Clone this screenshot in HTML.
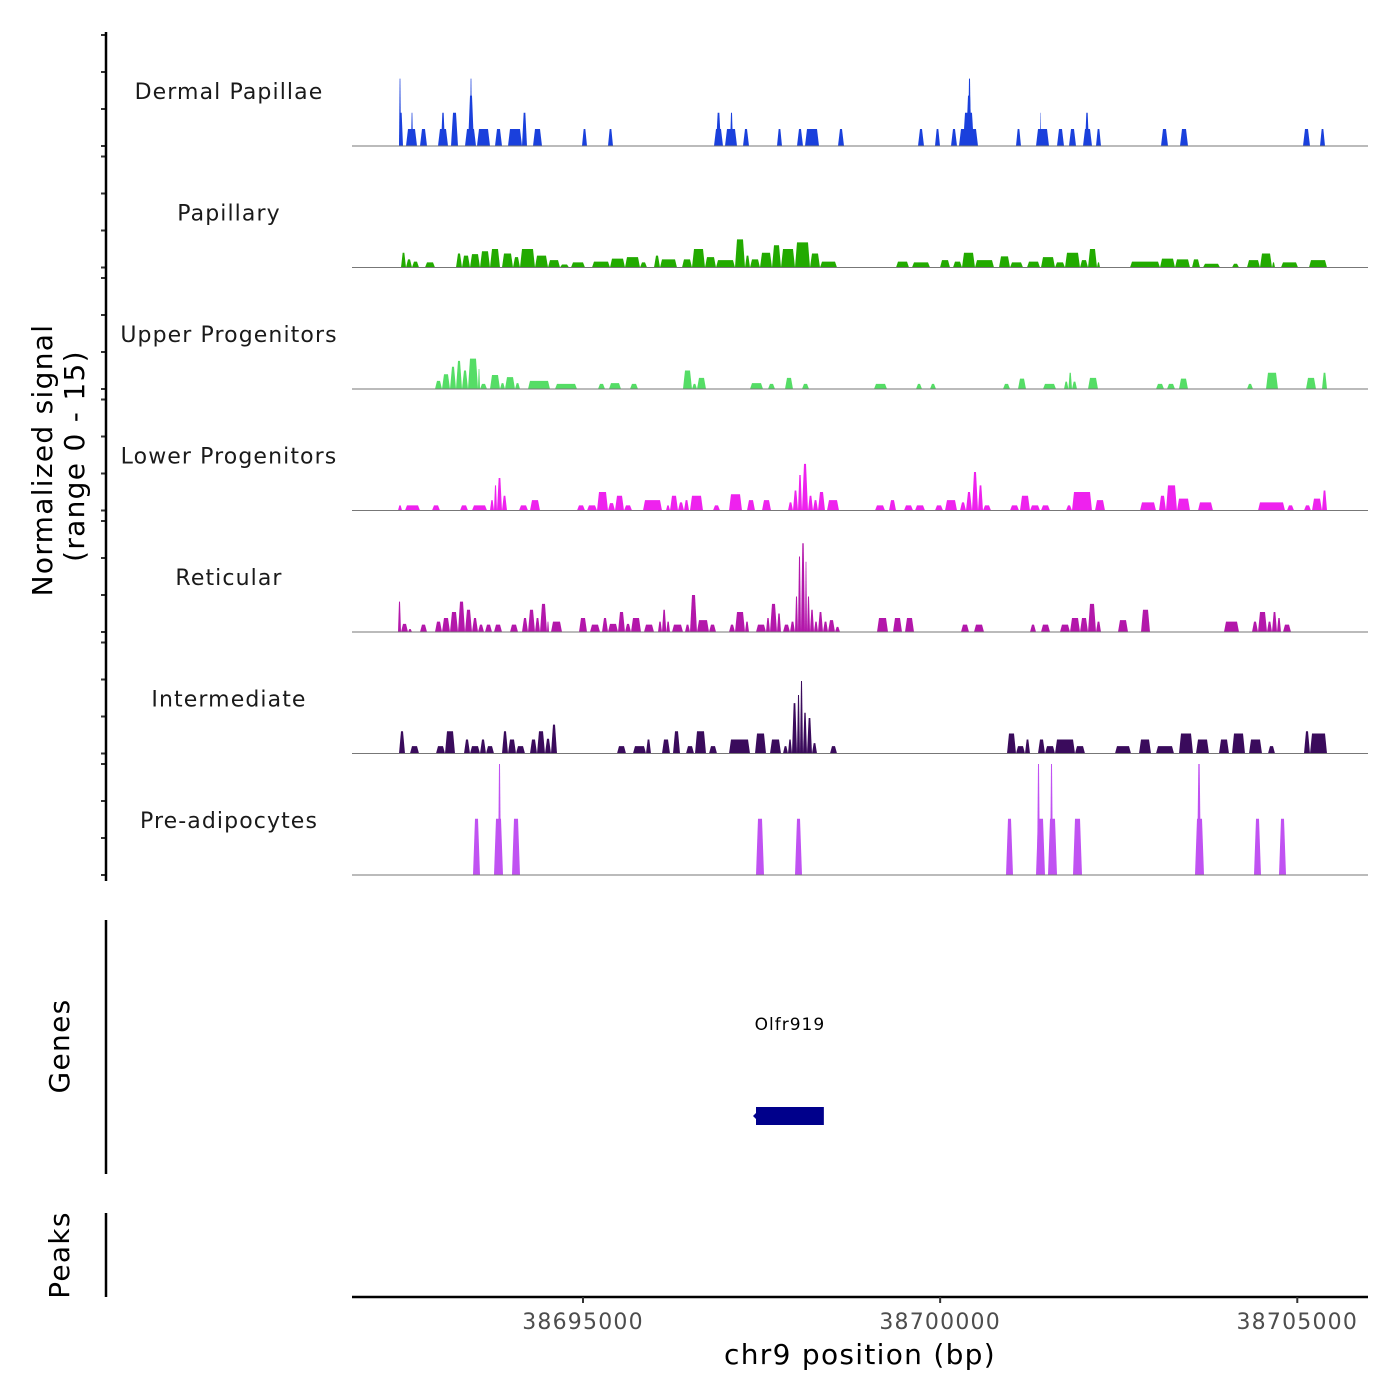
<!DOCTYPE html>
<html><head><meta charset="utf-8">
<style>
html,body{margin:0;padding:0;background:#fff;}
svg{display:block;font-family:"DejaVu Sans","Liberation Sans",sans-serif;}
</style></head>
<body>
<svg id="chart" width="1400" height="1400" viewBox="0 0 1400 1400" xmlns="http://www.w3.org/2000/svg">
<rect width="1400" height="1400" fill="#fff"/>
<g id="tracks"></g>
<g id="axes"></g>
<text transform="translate(52,460) rotate(-90)" text-anchor="middle" font-size="28" letter-spacing="1.3" fill="#000">Normalized signal</text>
<text transform="translate(84,456) rotate(-90)" text-anchor="middle" font-size="28" letter-spacing="1.3" fill="#000">(range 0 - 15)</text>
<text transform="translate(69,1046) rotate(-90)" text-anchor="middle" font-size="28" letter-spacing="1.3" fill="#000">Genes</text>
<text transform="translate(69,1255) rotate(-90)" text-anchor="middle" font-size="28" letter-spacing="1.3" fill="#000">Peaks</text>
<text x="860" y="1364" text-anchor="middle" font-size="28" letter-spacing="1.3" fill="#000">chr9 position (bp)</text>
</svg>
<script>
const REGION_START = 38691766;
const REGION_END = 38706000;
const Y_MAX = 15;
const trackNames = ["Dermal Papillae","Papillary","Upper Progenitors","Lower Progenitors","Reticular","Intermediate","Pre-adipocytes"];
const trackColors = ["#1a40dc","#22aa00","#55dd66","#ee22ee","#b317aa","#3a0b5c","#c052f2"];
const xTicks = [38695000, 38700000, 38705000];
const geneNames = ["Olfr919"];
const geneStarts = [38697422];
const geneEnds = [38698372];
// segments: [start offset bp, end offset bp, normalized signal]
const dermalPapillae = [[658,686,9.1],[658,714,4.5],[756,910,2.3],[826,854,4.5],[952,1050,2.3],[1204,1344,2.3],[1246,1302,4.5],[1386,1484,4.5],[1582,1736,2.3],[1624,1708,6.8],[1652,1680,9.1],[1750,1932,2.3],[2002,2100,2.3],[2184,2380,2.3],[2380,2450,4.5],[2534,2660,2.3],[3220,3290,2.3],[3584,3654,2.3],[5068,5194,2.3],[5096,5166,4.5],[5222,5390,2.3],[5292,5334,4.5],[5474,5558,2.3],[5950,6020,2.3],[6230,6314,2.3],[6342,6538,2.3],[6804,6888,2.3],[7924,8008,2.3],[8162,8232,2.3],[8386,8470,2.3],[8498,8764,2.3],[8554,8708,4.5],[8596,8680,6.8],[8624,8666,9.1],[9296,9366,2.3],[9576,9758,2.3],[9632,9646,4.5],[9870,9968,2.3],[10038,10136,2.3],[10234,10360,2.3],[10262,10318,4.5],[10416,10486,2.3],[11326,11424,2.3],[11592,11704,2.3],[13314,13412,2.3],[13552,13622,2.3]];
const papillary = [[686,756,2.0],[756,840,1.1],[840,938,0.8],[1022,1162,0.7],[1456,1540,1.9],[1540,1652,1.6],[1652,1792,1.8],[1792,1932,2.2],[1932,2072,2.5],[2100,2254,1.9],[2254,2352,1.4],[2352,2562,2.5],[2562,2744,1.6],[2744,2912,1.0],[2912,3038,0.4],[3066,3262,0.7],[3360,3612,0.8],[3612,3822,1.2],[3822,4032,1.4],[4032,4130,0.7],[4228,4312,1.6],[4312,4550,1.1],[4620,4760,1.1],[4760,4942,2.5],[4942,5096,1.4],[5096,5362,1.0],[5362,5502,3.8],[5502,5572,1.6],[5572,5712,1.1],[5712,5880,2.0],[5880,6006,3.0],[6006,6202,2.5],[6202,6412,3.4],[6412,6552,1.9],[6552,6790,0.8],[7616,7798,0.8],[7840,8092,0.7],[8232,8372,1.0],[8414,8540,0.8],[8540,8722,2.0],[8722,8988,1.0],[9058,9212,1.5],[9212,9394,0.7],[9450,9632,0.8],[9646,9842,1.4],[9842,9982,0.7],[9982,10192,2.0],[10192,10304,1.0],[10304,10430,2.5],[10430,10472,0.7],[10892,11312,0.8],[11312,11522,1.2],[11522,11732,1.1],[11760,11872,1.1],[11914,12152,0.5],[12320,12418,0.5],[12530,12712,1.0],[12712,12880,1.9],[12880,12922,0.7],[13006,13244,0.7],[13398,13650,1.0]];
const upperProgenitors = [[1162,1260,1.1],[1260,1372,2.0],[1372,1456,3.0],[1456,1540,3.8],[1540,1624,2.5],[1624,1764,4.1],[1764,1792,2.7],[1792,1890,0.7],[1932,2072,1.9],[2072,2142,0.8],[2142,2282,1.6],[2282,2352,0.8],[2464,2772,1.1],[2842,3150,0.7],[3444,3542,0.7],[3598,3766,0.8],[3892,4004,0.7],[4634,4760,2.5],[4760,4830,0.7],[4830,4956,1.5],[5572,5754,0.8],[5824,5922,0.7],[6062,6174,1.5],[6300,6398,0.7],[7308,7490,0.7],[7896,7980,0.7],[8092,8176,0.7],[9114,9212,0.7],[9324,9436,1.4],[9674,9856,0.7],[9968,10030,1.0],[10030,10080,2.2],[10080,10150,1.0],[10304,10444,1.5],[11256,11368,0.7],[11410,11522,0.7],[11578,11704,1.4],[12530,12614,0.7],[12796,12964,2.2],[13356,13496,1.5],[13580,13650,2.2]];
const lowerProgenitors = [[644,700,0.7],[742,952,0.7],[1120,1232,0.7],[1512,1624,0.7],[1680,1890,0.7],[1932,1988,1.4],[1988,2030,3.4],[2030,2100,4.4],[2100,2170,2.0],[2338,2464,0.7],[2492,2632,1.4],[3150,3262,0.7],[3290,3430,0.7],[3430,3584,2.5],[3584,3682,1.0],[3682,3808,2.0],[3808,3920,0.7],[4074,4340,1.4],[4396,4452,0.7],[4452,4564,2.0],[4564,4648,1.1],[4648,4718,1.4],[4732,4914,2.0],[5054,5152,0.7],[5278,5460,2.2],[5530,5642,1.4],[5740,5866,1.4],[6104,6174,1.1],[6174,6244,2.7],[6244,6300,4.8],[6300,6384,6.3],[6384,6454,2.0],[6454,6524,1.4],[6524,6622,2.5],[6650,6818,1.4],[7322,7462,0.7],[7518,7616,1.4],[7728,7854,0.7],[7882,8022,0.7],[8162,8274,0.7],[8302,8470,1.4],[8512,8596,1.1],[8596,8680,2.5],[8680,8764,5.2],[8764,8834,3.4],[8834,8946,0.7],[9212,9338,0.7],[9352,9492,2.0],[9492,9632,0.7],[9646,9772,0.7],[9996,10080,0.7],[10080,10360,2.5],[10402,10542,1.4],[11032,11256,1.1],[11298,11396,2.0],[11396,11550,3.4],[11550,11732,1.6],[11844,12054,1.1],[12684,13062,1.1],[13090,13188,0.7],[13328,13426,0.7],[13440,13580,1.6],[13580,13650,2.7]];
const reticular = [[644,686,4.1],[686,784,1.1],[784,840,0.4],[952,1050,1.0],[1162,1260,1.4],[1260,1372,1.9],[1372,1484,2.7],[1484,1582,4.1],[1582,1680,3.0],[1680,1764,1.9],[1764,1848,1.0],[1862,1960,1.0],[1988,2100,1.0],[2212,2324,1.0],[2380,2464,1.9],[2464,2562,3.0],[2562,2632,1.9],[2632,2730,3.8],[2730,2758,1.4],[2786,2940,1.4],[3178,3290,1.9],[3332,3472,1.0],[3500,3584,1.9],[3584,3724,1.1],[3724,3822,2.7],[3822,3906,1.1],[3906,4046,1.9],[4088,4228,1.0],[4284,4340,1.4],[4340,4400,3.0],[4400,4452,1.4],[4480,4634,1.0],[4662,4732,1.0],[4732,4830,5.0],[4830,4998,1.6],[4998,5096,1.0],[5278,5362,1.0],[5362,5502,2.7],[5502,5558,1.4],[5656,5796,1.0],[5796,5852,1.9],[5852,5950,3.8],[5950,6006,2.5],[6034,6132,1.0],[6132,6202,1.4],[6202,6244,4.8],[6244,6286,10.2],[6286,6342,12.0],[6342,6370,9.5],[6370,6412,4.8],[6412,6468,3.0],[6468,6524,1.4],[6524,6594,2.7],[6594,6664,1.4],[6664,6762,1.6],[6762,6832,0.7],[7350,7504,1.9],[7574,7700,1.9],[7742,7868,1.9],[8526,8638,1.0],[8708,8848,1.0],[9492,9576,1.0],[9646,9772,1.0],[9912,10052,1.0],[10052,10192,1.9],[10192,10304,1.9],[10304,10416,3.8],[10416,10486,1.4],[10724,10864,1.6],[11046,11172,3.0],[12208,12418,1.4],[12600,12684,1.4],[12684,12810,2.7],[12810,12880,1.4],[12880,12950,2.7],[12950,13006,1.9],[13034,13146,1.0]];
const intermediate = [[658,742,3.0],[812,938,1.0],[1176,1302,1.0],[1302,1442,3.0],[1568,1652,1.9],[1652,1792,1.0],[1792,1876,1.9],[1876,1988,1.0],[2100,2184,3.0],[2184,2296,1.9],[2296,2422,1.0],[2492,2590,1.9],[2590,2702,3.0],[2702,2786,2.0],[2786,2870,3.9],[3710,3836,1.0],[3934,4116,1.0],[4116,4186,1.9],[4340,4452,1.9],[4494,4592,3.0],[4676,4788,1.0],[4802,4956,3.0],[4998,5110,1.0],[5278,5572,1.9],[5642,5796,2.7],[5852,6006,1.9],[6034,6104,1.0],[6104,6160,1.9],[6160,6230,6.8],[6230,6272,7.9],[6272,6314,9.8],[6314,6370,5.5],[6370,6440,4.8],[6440,6510,1.4],[6692,6790,1.0],[9170,9296,2.7],[9296,9422,1.0],[9422,9492,1.9],[9604,9702,1.9],[9702,9842,1.0],[9842,10122,1.9],[10122,10262,1.0],[10682,10906,1.0],[11018,11186,1.9],[11256,11508,1.0],[11578,11774,2.7],[11816,11998,1.9],[12138,12278,1.9],[12320,12502,2.7],[12558,12740,1.9],[12824,12922,1.0],[13328,13412,3.0],[13412,13650,2.7]];
const preAdipocytes = [[1694,1792,7.6],[1988,2114,7.6],[2044,2086,15],[2240,2352,7.6],[5656,5768,7.6],[6202,6300,7.6],[9156,9254,7.6],[9576,9702,7.6],[9590,9632,15],[9744,9870,7.6],[9772,9814,15],[10094,10220,7.6],[11802,11928,7.6],[11830,11886,15],[12628,12726,7.6],[12978,13076,7.6]];
const trackData = [dermalPapillae, papillary, upperProgenitors, lowerProgenitors, reticular, intermediate, preAdipocytes];

const NS = "http://www.w3.org/2000/svg";
const PX0 = 352, PX1 = 1368;
const BP_PER_PX = 14;
function xScale(bp){ return PX0 + (bp - REGION_START) / BP_PER_PX; }
function xOff(off){ return xScale(REGION_START + off); }
const TRACK_TOP = 24.5, TRACK_H = 121.5, SIG_H = 111;
function baseY(i){ return TRACK_TOP + TRACK_H * (i + 1); }
function yScale(i, v){ return baseY(i) - v / Y_MAX * SIG_H; }
function mk(tag, attrs, parent){ const e = document.createElementNS(NS, tag); for (const k in attrs) e.setAttribute(k, attrs[k]); parent.appendChild(e); return e; }

const tracksG = document.getElementById('tracks');
const axesG = document.getElementById('axes');
trackNames.forEach((name, i) => {
  const g = mk('g', {}, tracksG);
  
  
  const lbl = mk('text', {x: 229, y: baseY(i) - 47, 'text-anchor': 'middle', 'font-size': 22, 'letter-spacing': 1.1, fill: '#1a1a1a'}, g);
  lbl.textContent = name;
  
  
  trackData[i].forEach(seg => {
    const x0 = xOff(seg[0]), x1 = xOff(seg[1]);
    const sl = Math.min(2, (x1 - x0) / 3);
    const yb = baseY(i), yt = yScale(i, seg[2]);
    const p = mk('polygon', {points: `${x0},${yb} ${x0+sl},${yt} ${x1-sl},${yt} ${x1},${yb}`, fill: trackColors[i]}, g);
    
    
  });
  const bl = mk('line', {x1: PX0, x2: PX1, y1: baseY(i), y2: baseY(i), stroke: '#777', 'stroke-width': 1}, g);
  
  
  [0, 5, 10, 15].forEach(v => {
    const t = mk('line', {x1: 101, x2: 106, y1: yScale(i, v), y2: yScale(i, v), stroke: '#333', 'stroke-width': 2}, axesG);
    
    
  });
});
let ax = mk('line', {x1: 106, x2: 106, y1: 32, y2: 881, stroke: '#000', 'stroke-width': 2.5}, axesG);


ax = mk('line', {x1: 106, x2: 106, y1: 920, y2: 1174, stroke: '#000', 'stroke-width': 2.5}, axesG);


ax = mk('line', {x1: 106, x2: 106, y1: 1213, y2: 1297, stroke: '#000', 'stroke-width': 2.5}, axesG);


ax = mk('line', {x1: PX0, x2: PX1, y1: 1297, y2: 1297, stroke: '#000', 'stroke-width': 2.5}, axesG);


xTicks.forEach(t => {
  const x = xScale(t);
  const tk = mk('line', {x1: x, x2: x, y1: 1297, y2: 1303, stroke: '#333', 'stroke-width': 2}, axesG);
  
  
  const tl = mk('text', {x: x, y: 1329, 'text-anchor': 'middle', 'font-size': 22, 'letter-spacing': 1.2, fill: '#4d4d4d'}, axesG);
  tl.textContent = String(t);
  
  
});
geneNames.forEach((gname, i) => {
  const x0 = xScale(geneStarts[i]), x1 = xScale(geneEnds[i]);
  const gg = mk('g', {}, tracksG);
  
  
  const r = mk('rect', {x: x0, y: 1107, width: x1 - x0, height: 18, fill: '#00008b'}, gg);
  
  
  const a = mk('polygon', {points: `${x0-3},1116 ${x0+1},1112 ${x0+1},1120`, fill: '#00008b'}, gg);
  
  
  const t = mk('text', {x: (x0 + x1) / 2, y: 1030, 'text-anchor': 'middle', 'font-size': 17, 'letter-spacing': 1, fill: '#000'}, gg);
  t.textContent = gname;
  
  
});
</script>
</body></html>
